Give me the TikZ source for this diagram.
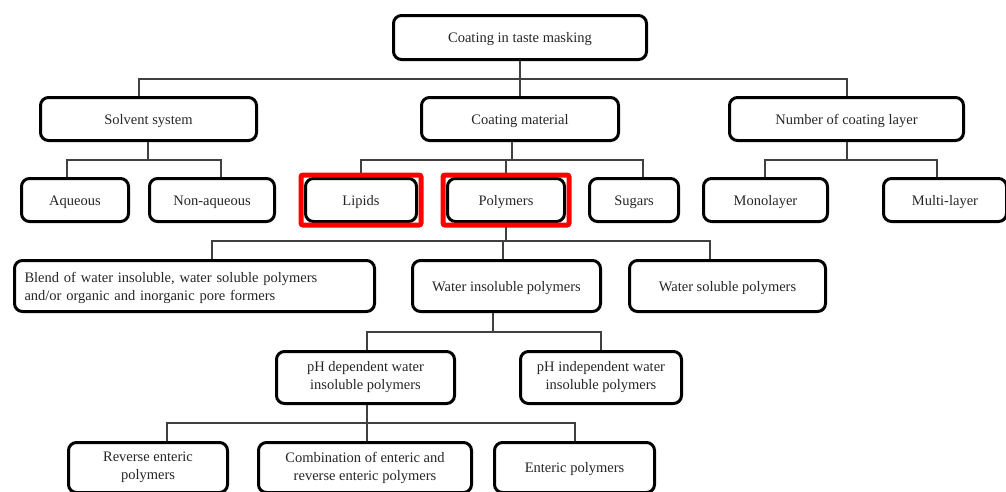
\documentclass[tikz,border=0pt]{standalone}
\usepackage{fontspec}
\setmainfont{Liberation Serif}
\colorlet{box edge}{black}
\colorlet{link line}{black!75}
\tikzset{
  box/.style={draw=box edge, line width=3pt, rounded corners=8pt, inner sep=2pt, align=center, text=black!85,
    execute at begin node={\rule{0pt}{14pt}}},
  hilite/.style={draw=red, line width=5pt, rounded corners=2pt},
  link/.style={draw=link line, line width=2pt},
}

\begin{document}
\begin{tikzpicture}[x=1pt, y=-1pt, font=\fontsize{14.5}{18}\selectfont]
    \useasboundingbox (0,0) rectangle (1006,491);
    \node[box, minimum width=253pt, minimum height=44pt] (root) at (520,37.5) {Coating in taste masking};

    \node[box, minimum width=216pt, minimum height=43pt] (solvent) at (148.5,119) {Solvent system};
    \node[box, minimum width=197pt, minimum height=43pt] (material) at (520,119) {Coating material};
    \node[box, minimum width=234pt, minimum height=43pt] (layers) at (846.5,119) {Number of coating layer};

    \node[box, minimum width=107pt, minimum height=43pt] (aqueous) at (75,200) {Aqueous};
    \node[box, minimum width=125pt, minimum height=43pt] (nonaq) at (212,200) {Non-aqueous};
    \node[box, minimum width=111pt, minimum height=43pt] (lipids) at (361,200) {Lipids};
    \node[box, minimum width=117pt, minimum height=43pt] (polymers) at (506,200) {Polymers};
    \node[box, minimum width=89pt, minimum height=43pt] (sugars) at (634,200) {Sugars};
    \node[box, minimum width=124pt, minimum height=43pt] (mono) at (765.5,200) {Monolayer};
    \node[box, minimum width=123pt, minimum height=43pt] (multi) at (945,200) {Multi-layer};

    \node[box, text width=340pt, inner xsep=10pt, align=left, minimum height=51pt] (blend) at (194.5,286)
        {Blend of water insoluble, water soluble polymers\\and/or organic and inorganic pore formers};
    \node[box, minimum width=188pt, minimum height=51pt] (winsol) at (506.5,286) {Water insoluble polymers};
    \node[box, minimum width=196pt, minimum height=51pt] (wsol) at (727.5,286) {Water soluble polymers};

    \node[box, minimum width=178pt, minimum height=52pt] (phdep) at (365.5,377.5) {pH dependent water\\insoluble polymers};
    \node[box, minimum width=161pt, minimum height=52pt] (phind) at (601,377.5) {pH independent water\\insoluble polymers};

    \node[box, minimum width=159pt, minimum height=50pt] (reverse) at (148,467.5) {Reverse enteric\\polymers};
    \node[box, minimum width=213pt, minimum height=50pt] (combo) at (365,467.5) {Combination of enteric and\\reverse enteric polymers};
    \node[box, minimum width=160pt, minimum height=50pt] (enteric) at (574.5,467.5) {Enteric polymers};

    \foreach \c/\s in {solvent/-9.5pt, material/0pt, layers/0.5pt}
        \draw[link] (root.south) -- ++(0,18) -| ([xshift=\s]\c.north);
    \foreach \c/\s in {aqueous/-8pt, nonaq/9pt}
        \draw[link] ([xshift=-0.5pt]solvent.south) -- ++(0,18) -| ([xshift=\s]\c.north);
    \foreach \c/\s in {lipids/0pt, polymers/0pt, sugars/9pt}
        \draw[link] ([xshift=-8pt]material.south) -- ++(0,18) -| ([xshift=\s]\c.north);
    \foreach \c/\s in {mono/-0.5pt, multi/-8pt}
        \draw[link] ([xshift=0.5pt]layers.south) -- ++(0,18) -| ([xshift=\s]\c.north);
    \foreach \c/\s in {blend/17.5pt, winsol/-3.5pt, wsol/-17.5pt}
        \draw[link] (polymers.south) -- ++(0,18) -| ([xshift=\s]\c.north);
    \foreach \c/\s in {phdep/1.5pt, phind/0pt}
        \draw[link] ([xshift=-13.5pt]winsol.south) -- ++(0,18.5) -| ([xshift=\s]\c.north);
    \foreach \c/\s in {reverse/19pt, combo/2pt, enteric/0.5pt}
        \draw[link] ([xshift=1.5pt]phdep.south) -- ++(0,18) -| ([xshift=\s]\c.north);

    \draw[hilite] ([shift={(-3pt,2pt)}]lipids.north west) rectangle ([shift={(3pt,-2pt)}]lipids.south east);
    \draw[hilite] ([shift={(-3pt,2pt)}]polymers.north west) rectangle ([shift={(3pt,-2pt)}]polymers.south east);
\end{tikzpicture}
\end{document}
